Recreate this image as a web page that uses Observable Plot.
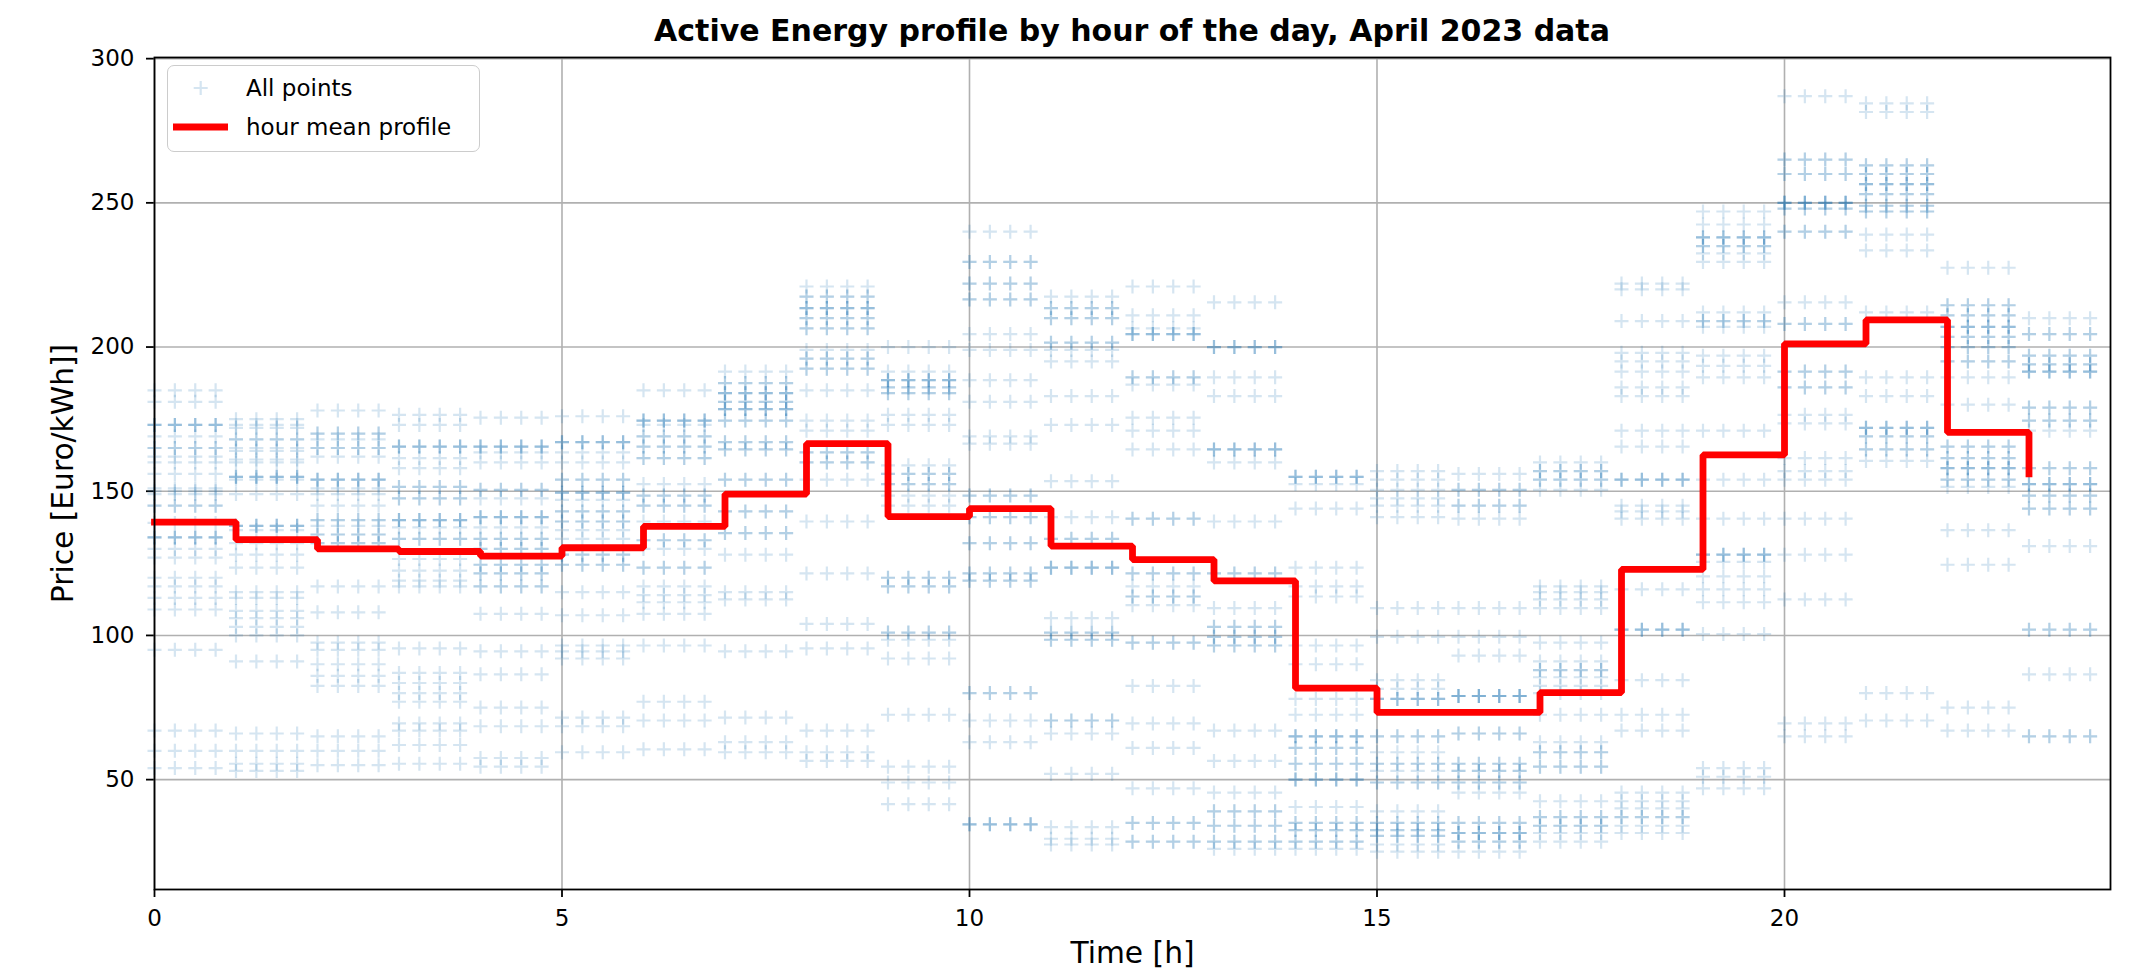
<!DOCTYPE html>
<html>
<head>
<meta charset="utf-8">
<script src="https://cdn.jsdelivr.net/npm/d3@7"></script>
<script src="https://cdn.jsdelivr.net/npm/@observablehq/plot@0.6"></script>
<style>
  html, body { margin: 0; padding: 0; background: #fff; }
  #wrap { position: relative; width: 2131px; height: 971px; font-family: "DejaVu Sans", sans-serif; overflow: hidden; }
  #title { position: relative; height: 45px; }
  #title span { position: absolute; left: 154px; width: 1956px; top: 15.5px; text-align: center;
    font-size: 30px; line-height: 1; font-weight: bold; color: #000; white-space: nowrap; }
  #chart svg { display: block; }
  #chart g[aria-label="x-axis tick"] path, #chart g[aria-label="y-axis tick"] path,
  #chart g[aria-label="x-axis"] .tick line, #chart g[aria-label="y-axis"] .tick line { stroke-width: 1.8px; }
  #legend { position: absolute; left: 167px; top: 65px; width: 313px; height: 87px; box-sizing: border-box;
    border: 1.8px solid #cccccc; border-radius: 7px; background: rgba(255,255,255,0.8); }
  #legend svg { position: absolute; left: -1.8px; top: -1.8px; }
</style>
</head>
<body>
<div id="wrap">
  <div id="title"><span>Active Energy profile by hour of the day, April 2023 data</span></div>
  <div id="chart"></div>
  <div id="legend"></div>
</div>
<script>
// ---------- data ----------
const hours = d3.range(24);
const quarterOffsets = [0, 0.25, 0.5, 0.75];
const xTicks = [0, 5, 10, 15, 20];
const yTicks = [50, 100, 150, 200, 250, 300];

// daily prices for each hour (one value per day; repeated on the four quarter-hours)
const h00 = [185,181,173,173,173,169,165,165,162,160,156,151,150,149,145,145,139,134,134,134,130,127,120,117,113,109,95,67,60,54];
const h01 = [175,173,172,168,168,165,164,161,160,155,155,155,154,149,138,138,138,136.5,132,128,123.5,115,113,108.5,106,103,100,91,66,60,55.5,53];
const h02 = [178,170,170,168,165,165,162,154,154,154,151,149,145,140,140,138,135,135,132,132,117,108,97.5,95,90,86,82.5,65,60,55];
const h03 = [176.5,173,165.5,165.5,165.5,161.5,158,151.5,151.5,147.5,147.5,140,140,140,137.5,133.5,133.5,126.5,122.5,119,117,95.5,87,83.5,80,77,69.5,67,62,55.5];
const h04 = [175.5,165.5,165.5,165.5,163.5,160,150.5,150.5,147.5,141,141,141,137.5,133.5,133.5,130,130,124.5,124.5,121.5,121.5,117,117,107.5,94.5,86.5,75,68.5,57.5,54.5];
const h05 = [176,167,167,167,163.5,160,154,154,149.5,149.5,149.5,147,143,143,139.5,139.5,136.5,133.5,128,128,124.5,124.5,115,107,96.5,94.5,92,71.5,68.5,59.5];
const h06 = [185,174.5,174.5,174.5,173,169,169,165.5,165.5,161.5,161.5,152.5,148.5,148.5,145,145,139.5,133,133,130,123.5,123.5,117,114,111.5,107.5,96.5,77,70.5,60.5];
const h07 = [191.5,187.5,187.5,184,184,184,181,181,178.5,178.5,178.5,174.5,174.5,167,167,164.5,164.5,154,154,143,143,135.5,135.5,128,115,112.5,94.5,71.5,63,59.5];
const h08 = [221,217.5,217.5,213.5,213.5,213.5,210,210,206.5,206.5,199,196,196,192.5,192.5,185,174.5,171,163.5,163.5,160,160,154,139.5,121.5,104,95.5,67,59.5,56.5];
const h09 = [200,191.5,188.5,188.5,188.5,186,186,184,184,176.5,173,159,156,156,152.5,152.5,148.5,145,120,120,117,117,101,101,98.5,92,72.5,54.5,49,41.5];
const h10 = [240,229.5,229.5,222,222,216.5,216.5,204.5,199,188.5,181,169,166.5,148.5,148.5,141,141,132,132,121.5,121.5,119,119,80,80,70.5,63,34.5,34.5,34.5];
const h11 = [217.5,213.5,213.5,210,210,201.5,201.5,199,195,183,173,153.5,141,133.5,133.5,123.5,123.5,123.5,106,101,101,98.5,98.5,70.5,70.5,66,52,33.5,29.5,27.5];
const h12 = [221,211,206.5,204.5,204.5,204.5,189.5,189.5,187,175.5,171,164.5,140.5,140.5,121.5,121.5,117,113.5,113.5,110.5,97.5,97.5,82.5,69.5,61,47,35,35,28.5,28.5];
const h13 = [215.5,200,200,200,189.5,183,164.5,164.5,164.5,160,139.5,121.5,121.5,109.5,103,103,99.5,99.5,96.5,96.5,67,56.5,45.5,39,39,34,34,28.5,28.5,26];
const h14 = [155,155,155,152.5,144,123.5,117,113.5,96.5,90,78,72.5,65,65,65,61,61,55.5,55.5,50,50,50,40.5,35,35,32.5,32.5,28.5,28.5,26];
const h15 = [157,154,150.5,147.5,145,141,109.5,99.5,84.5,81.5,78,78,78,65,65,59.5,55.5,55.5,53,49,49,39,35,35,32.5,32.5,30.5,30.5,27.5,25];
const h16 = [156,150.5,150.5,145,145,140.5,109.5,99.5,93,79,79,79,79,66,66,55.5,55.5,53,53,49,49,45.5,35,35,31.5,31.5,31.5,28.5,28.5,25];
const h17 = [160,157,157,154,154,150.5,117,115,112.5,109.5,97.5,91,88,88,85.5,82.5,80,72.5,63,59.5,59.5,54.5,54.5,42.5,37,37,34,34,31.5,28.5];
const h18 = [222,220,209,198,195,191.5,186,183,171,165.5,154,154,154,145,143,140.5,116,102,102,102,84.5,72.5,67,45.5,42.5,40,37,37,34,31.5];
const h19 = [247,242.5,238,238,238,235,235,232.5,229.5,212,209,209,207,197,193.5,189.5,171,154,140.5,128,128,128,125.5,120.5,116,111.5,100.5,54,51,47];
const h20 = [287,265,265,260,260,250,250,250,250,248,248,240,240,215.5,208,208,191.5,191.5,186,186,176.5,173.5,161.5,157,154,140.5,128,112.5,69.5,65];
const h21 = [284.5,281.5,263,263,260,260,256.5,256.5,256.5,253,253,249,249,247,247,239,233.5,212,189.5,183,172,172,172,169,169,164.5,164.5,160.5,80,70.5];
const h22 = [227.5,214.5,214.5,211,211,207,207,207,203.5,203.5,200,200,195,195,189.5,180,165.5,165.5,161.5,161.5,158,158,158,154,154,151.5,136.5,124.5,75,67];
const h23 = [210,204.5,204.5,197,197,194,194,191.5,191.5,191.5,179,179,174.5,174.5,171,158,158,152.5,152.5,152.5,148.5,148.5,144,144,131,102,102,86.5,65,65];
const dailyPricesByHour = [h00,h01,h02,h03,h04,h05,h06,h07,h08,h09,h10,h11,h12,h13,h14,h15,h16,h17,h18,h19,h20,h21,h22,h23];

// hour mean profile (red step line)
const hourMean = [139.3,133.2,130,129.1,127.5,130.4,137.8,149,166.5,141.2,144,131,126.3,118.9,81.7,73.3,73.3,80.2,122.9,162.6,201.1,209.4,170.4,156];

// ---------- build tables ----------
const points = [];
dailyPricesByHour.forEach((vals, h) => vals.forEach(v => quarterOffsets.forEach(q => points.push({t: h + q, price: v}))));
const meanRows = hours.map((h, i) => ({t: h, price: hourMean[i]}));

// line "+" marker (matplotlib style)
const plusLine = {
  draw(ctx, size) {
    const r = Math.sqrt(size / Math.PI);
    ctx.moveTo(-r, 0); ctx.lineTo(r, 0);
    ctx.moveTo(0, -r); ctx.lineTo(0, r);
  }
};

const BLUE = "#1f77b4";
const PT_OPACITY = 0.19;
const chart = Plot.plot({
  width: 2131,
  height: 926,
  marginTop: 12,
  marginBottom: 82,
  marginLeft: 154,
  marginRight: 21,
  style: {fontFamily: "DejaVu Sans", fontSize: "23px", color: "#000", background: "#fff", overflow: "visible"},
  x: {domain: [0, 24], ticks: xTicks, tickSize: 8, tickPadding: 12, tickFormat: d => String(d), label: null},
  y: {domain: [11.9, 300.4], ticks: yTicks, tickSize: 8, tickPadding: 12, tickFormat: d => String(d), label: null},
  marks: [
    Plot.ruleX(xTicks, {stroke: "#b0b0b0", strokeWidth: 1.6}),
    Plot.ruleY(yTicks, {stroke: "#b0b0b0", strokeWidth: 1.6}),
    Plot.dot(points, {x: "t", y: "price", symbol: plusLine, r: 7, fill: "none", stroke: BLUE, strokeOpacity: PT_OPACITY, strokeWidth: 2.2}),
    Plot.line(meanRows, {x: "t", y: "price", curve: "step-after", stroke: "red", strokeWidth: 6.8, strokeLinejoin: "miter", strokeLinecap: "square"}),
    Plot.frame({stroke: "#000", strokeWidth: 1.8}),
    Plot.text(["Time [h]"], {frameAnchor: "bottom", textAnchor: "middle", lineAnchor: "bottom", dy: 73, fontSize: 29.7, fill: "#000"}),
    Plot.text(["Price [Euro/kWh]]"], {frameAnchor: "left", rotate: -90, textAnchor: "middle", lineAnchor: "bottom", dx: -82, fontSize: 29.7, fill: "#000"})
  ]
});
document.getElementById("chart").appendChild(chart);

// ---------- legend (inside the axes, upper left) ----------
const legendItems = [
  {label: "All points", kind: "plus"},
  {label: "hour mean profile", kind: "line"}
];
const lg = d3.select("#legend").append("svg").attr("width", 313).attr("height", 87)
  .style("font-family", "DejaVu Sans").style("font-size", "23px");
legendItems.forEach((it, i) => {
  const cy = 24 + i * 39;
  if (it.kind === "plus") {
    lg.append("path").attr("d", `M${34.7 - 7},${cy}H${34.7 + 7}M${34.7},${cy - 7}V${cy + 7}`)
      .attr("stroke", BLUE).attr("stroke-opacity", PT_OPACITY).attr("stroke-width", 2.2).attr("fill", "none");
  } else {
    lg.append("line").attr("x1", 7).attr("x2", 62).attr("y1", cy).attr("y2", cy)
      .attr("stroke", "red").attr("stroke-width", 6.8);
  }
  lg.append("text").attr("x", 80).attr("y", cy).attr("dy", "0.35em").attr("fill", "#000").text(it.label);
});
</script>
</body>
</html>
